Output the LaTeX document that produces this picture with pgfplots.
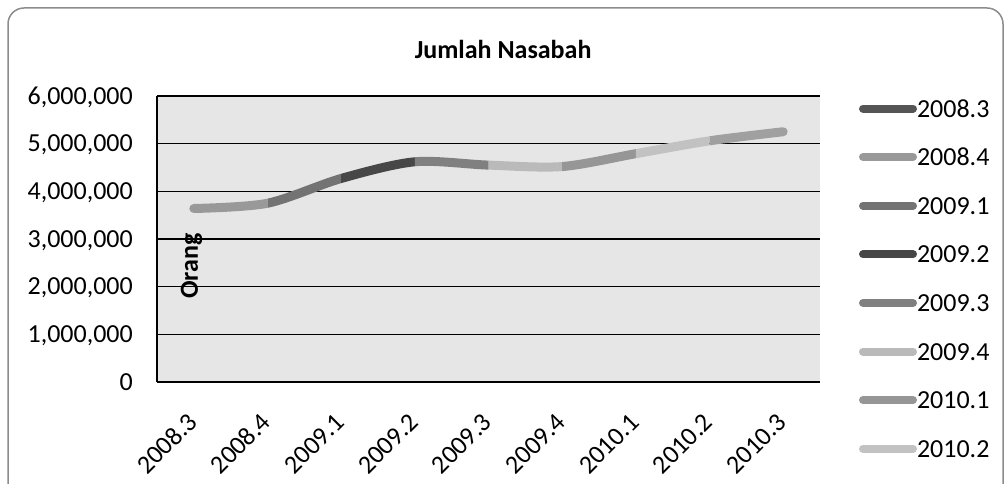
\documentclass[border=0pt]{standalone}
\usepackage{pgfplots}
\pgfplotsset{compat=1.18}
\usepackage{pgfplotstable}
\usepackage{fontspec}
\setmainfont{Carlito}

\definecolor{plotbg}{HTML}{E6E6E6}
\definecolor{frame}{HTML}{8C8C8C}
\definecolor{s083}{HTML}{555555}
\definecolor{s084}{HTML}{999999}
\definecolor{s091}{HTML}{737373}
\definecolor{s092}{HTML}{474747}
\definecolor{s093}{HTML}{808080}
\definecolor{s094}{HTML}{BABABA}
\definecolor{s101}{HTML}{969696}
\definecolor{s102}{HTML}{C2C2C2}
\definecolor{s103}{HTML}{A0A0A0}

% number of customers per quarter
\pgfplotstableread{
x y
0 3640000
1 3750000
2 4270000
3 4620000
4 4550000
5 4520000
6 4790000
7 5060000
8 5250000
}\nasabah

% one coloured piece of the smooth curve, between x = #1 and x = #2
\newcommand{\segment}[3]{%
  \begin{scope}
    \clip (axis cs:#1,0) rectangle (axis cs:#2,6000000);
    \addplot[#3, line width=9pt, line cap=round, line join=round,
      smooth, forget plot] table[x=x, y=y] {\nasabah};
  \end{scope}}

\newcommand{\bigfont}{\fontsize{26}{30}\selectfont}

\begin{document}
\begin{tikzpicture}[x=1pt, y=1pt]
\useasboundingbox (0,0) rectangle (1005,484);
\draw[frame, line width=1.5pt, rounded corners=16pt] (8,-20) rectangle (1003,476);
\begin{axis}[
  at={(157pt,102pt)}, anchor=south west,
  scale only axis, width=663pt, height=286pt,
  xmin=-0.5, xmax=8.5, ymin=0, ymax=6000000,
  axis background/.style={fill=plotbg},
  separate axis lines,
  axis x line*=bottom, axis y line*=left,
  axis line style={black, line width=1.5pt},
  xtick={0,1,2,3,4,5,6,7,8},
  xticklabels={2008.3,2008.4,2009.1,2009.2,2009.3,2009.4,2010.1,2010.2,2010.3},
  ytick={0,1000000,2000000,3000000,4000000,5000000,6000000},
  yticklabels={0,{1,000,000},{2,000,000},{3,000,000},{4,000,000},{5,000,000},{6,000,000}},
  scaled y ticks=false,
  ymajorgrids, grid style={black, line width=1.5pt},
  major tick length=0pt,
  tick label style={font=\bigfont, inner sep=0pt},
  yticklabel style={anchor=east, xshift=-24pt, text height=16.4pt, text depth=0pt},
  xticklabel style={xshift=-1pt, yshift=-36pt, rotate=45, anchor=east,
    text height=16.4pt, text depth=0pt},
  title={Jumlah Nasabah},
  title style={at={(axis description cs:0.522,1)}, anchor=center, yshift=41pt,
    font=\bigfont\bfseries},
  ylabel={Orang},
  ylabel style={at={(axis description cs:0.052,0.405)}, anchor=center,
    font=\bigfont\bfseries},
  legend image code/.code={\draw[#1] (0pt,0pt) -- (50pt,0pt);},
  legend cell align=left,
  legend style={draw=none, fill=none, inner sep=0pt, outer sep=0pt,
    at={(1,1)}, anchor=north west, xshift=39pt, yshift=-4pt,
    font=\bigfont, row sep=31.6pt, column sep=0pt,
    nodes={inner sep=0pt, text height=17pt, text depth=0pt}},
]
\addlegendimage{s083, line width=8pt, line cap=round}
\addlegendentry{2008.3}
\addlegendimage{s084, line width=8pt, line cap=round}
\addlegendentry{2008.4}
\addlegendimage{s091, line width=8pt, line cap=round}
\addlegendentry{2009.1}
\addlegendimage{s092, line width=8pt, line cap=round}
\addlegendentry{2009.2}
\addlegendimage{s093, line width=8pt, line cap=round}
\addlegendentry{2009.3}
\addlegendimage{s094, line width=8pt, line cap=round}
\addlegendentry{2009.4}
\addlegendimage{s101, line width=8pt, line cap=round}
\addlegendentry{2010.1}
\addlegendimage{s102, line width=8pt, line cap=round}
\addlegendentry{2010.2}

\segment{-0.5}{1}{s084}
\segment{1}{2}{s091}
\segment{2}{3}{s092}
\segment{3}{4}{s093}
\segment{4}{5}{s094}
\segment{5}{6}{s101}
\segment{6}{7}{s102}
\segment{7}{8.5}{s103}
\end{axis}
\end{tikzpicture}
\end{document}
